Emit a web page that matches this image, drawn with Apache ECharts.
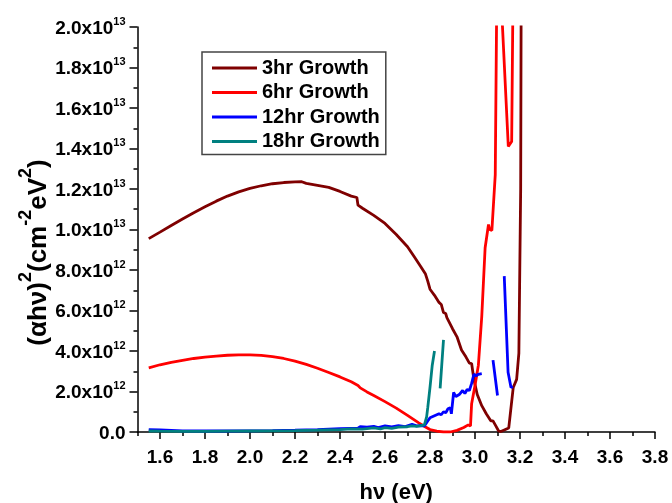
<!DOCTYPE html>
<html>
<head>
<meta charset="utf-8">
<script src="https://cdn.jsdelivr.net/npm/echarts@6/dist/echarts.min.js"></script>
<style>
  html, body { margin: 0; padding: 0; background: #fff; }
  #chart { width: 672px; height: 503px; }
</style>
</head>
<body>
<div id="chart"></div>
<script>
// Tauc plot data: photon energy hν (eV) against (αhν)², y values in units of 10^12
const Y_UNIT = 1e12;

const seriesNames = ['3hr Growth', '6hr Growth', '12hr Growth', '18hr Growth'];
const seriesColors = ['#7f0000', '#ff0000', '#0000ff', '#008080'];

const growth3hrX = [1.55, 1.60, 1.65, 1.70, 1.75, 1.80, 1.85, 1.90, 1.95, 2.00, 2.05, 2.10, 2.15, 2.20, 2.23,
  2.25, 2.30, 2.35, 2.40, 2.45, 2.475, 2.48, 2.50, 2.55, 2.60, 2.65, 2.70, 2.73, 2.76, 2.78, 2.79, 2.80,
  2.82, 2.84, 2.85, 2.86, 2.87, 2.875, 2.88, 2.90, 2.92, 2.94, 2.96, 2.975, 2.985, 2.995, 3.01, 3.03, 3.05,
  3.07, 3.08, 3.09, 3.105, 3.115, 3.14, 3.15, 3.16, 3.17, 3.185, 3.195, 3.203, 3.206];
const growth3hrY = [9.55, 9.87, 10.20, 10.52, 10.83, 11.12, 11.40, 11.65, 11.86, 12.03, 12.16, 12.26, 12.32, 12.35, 12.36,
  12.28, 12.18, 12.08, 11.88, 11.65, 11.58, 11.20, 11.05, 10.70, 10.30, 9.75, 9.15, 8.65, 8.15, 7.80, 7.45, 7.05,
  6.75, 6.40, 6.30, 5.90, 5.85, 5.65, 5.70, 5.10, 4.70, 4.05, 3.70, 3.40, 3.38, 2.60, 1.85, 1.30, 0.90,
  0.55, 0.55, 0.35, 0.05, 0.02, 0.15, 0.20, 1.20, 2.20, 2.60, 3.90, 12.0, 25.0];

const growth6hrX = [1.55, 1.60, 1.65, 1.70, 1.75, 1.80, 1.85, 1.90, 1.95, 2.00, 2.05, 2.10, 2.15, 2.20, 2.25,
  2.30, 2.35, 2.40, 2.45, 2.48, 2.49, 2.52, 2.55, 2.60, 2.65, 2.70, 2.75, 2.78, 2.80, 2.83, 2.86, 2.89,
  2.92, 2.95, 2.97, 2.98, 2.985, 3.00, 3.015, 3.03, 3.045, 3.06, 3.065, 3.075, 3.09, 3.096, 3.108, 3.12,
  3.148, 3.163, 3.168, 3.175];
const growth6hrY = [3.17, 3.32, 3.44, 3.54, 3.63, 3.70, 3.75, 3.79, 3.81, 3.81, 3.78, 3.72, 3.63, 3.50, 3.34,
  3.15, 2.94, 2.72, 2.48, 2.30, 2.18, 1.98, 1.80, 1.50, 1.18, 0.82, 0.45, 0.25, 0.12, 0.04, 0.00, 0.00,
  0.08, 0.22, 0.35, 0.30, 1.40, 2.30, 3.30, 5.70, 9.10, 10.25, 10.00, 9.95, 12.70, 20.5, 26.0, 20.5,
  14.10, 14.35, 20.5, 26.0];

// null marks a gap in the trace
const growth12hrX = [1.55, 1.60, 1.65, 1.70, 1.80, 1.90, 2.00, 2.10, 2.20, 2.30, 2.35, 2.40, 2.45, 2.48, 2.49,
  2.52, 2.55, 2.57, 2.60, 2.63, 2.66, 2.69, 2.72, 2.74, 2.76, 2.775, 2.79, 2.80, 2.82, 2.84, 2.85, 2.86,
  2.87, 2.88, 2.89, 2.895, 2.905, 2.915, 2.93, 2.945, 2.955, 2.965, 2.975, 2.985, 2.995, 3.005, 3.015, 3.03,
  3.05, 3.08, 3.10, 3.115, 3.13, 3.14, 3.147, 3.16, 3.168];
const growth12hrY = [0.12, 0.10, 0.08, 0.06, 0.05, 0.05, 0.06, 0.07, 0.09, 0.12, 0.14, 0.16, 0.18, 0.19, 0.27,
  0.24, 0.28, 0.22, 0.30, 0.25, 0.31, 0.27, 0.38, 0.30, 0.32, 0.30, 0.55, 0.70, 0.80, 0.90, 0.85, 1.00,
  0.95, 1.15, 1.20, 0.90, 1.95, 1.75, 1.85, 2.05, 1.90, 2.10, 2.05, 2.40, 2.85, 2.78, 2.85, 2.88,
  null, 3.55, 1.80, null, 7.70, 4.90, 2.95, 2.20, 2.25];

const growth18hrX = [1.55, 1.60, 1.70, 1.80, 1.90, 2.00, 2.10, 2.20, 2.30, 2.40, 2.45, 2.50, 2.55, 2.58, 2.60,
  2.63, 2.66, 2.70, 2.72, 2.74, 2.76, 2.775, 2.785, 2.79, 2.80, 2.81, 2.82, 2.83, 2.845, 2.86];
const growth18hrY = [0.05, 0.04, 0.03, 0.03, 0.04, 0.05, 0.06, 0.07, 0.09, 0.12, 0.15, 0.14, 0.20, 0.15, 0.22,
  0.18, 0.24, 0.26, 0.30, 0.28, 0.32, 0.35, 0.75, 1.20, 2.20, 3.30, 4.00, null, 2.15, 4.55];

// Labelled (major) ticks on the energy axis; minor ticks fall halfway between
const xMajorTicks = [1.6, 1.8, 2.0, 2.2, 2.4, 2.6, 2.8, 3.0, 3.2, 3.4, 3.6, 3.8];

const FONT = "'Liberation Sans', Arial, sans-serif";

function toPairs(xs, ys) {
  return xs.map((x, i) => [x, ys[i] === null ? '-' : ys[i] * Y_UNIT]);
}

function yTickLabel(v) {
  if (v === 0) return '{m|0.0}';
  const exp = Math.floor(Math.log10(v) + 1e-9);
  const mant = (v / Math.pow(10, exp)).toFixed(1);
  return '{m|' + mant + 'x10}{e|' + exp + '}';
}

const chart = echarts.init(document.getElementById('chart'), null, { renderer: 'canvas' });

const axisLineStyle = { color: '#000', width: 1.5 };

chart.setOption({
  animation: false,
  backgroundColor: '#fff',
  grid: { left: 137.5, right: 17, top: 27, bottom: 71, containLabel: false, outerBoundsMode: 'none' },
  legend: {
    orient: 'vertical',
    left: 202,
    top: 52,
    padding: [6, 6, 3, 10],
    itemGap: 4.5,
    itemWidth: 45,
    itemHeight: 3,
    icon: 'rect',
    borderColor: '#444',
    borderWidth: 1.5,
    backgroundColor: '#fff',
    textStyle: { fontFamily: FONT, fontSize: 20, fontWeight: 'bold', color: '#000', lineHeight: 20 },
    data: seriesNames
  },
  xAxis: [
    {
      type: 'value',
      position: 'bottom',
      min: 1.5,
      max: 3.8,
      name: 'hν (eV)',
      nameLocation: 'middle',
      nameGap: 50,
      nameMoveOverlap: false,
      nameTextStyle: { fontFamily: FONT, fontSize: 22, fontWeight: 'bold', color: '#000' },
      axisLine: { show: true, onZero: false, lineStyle: axisLineStyle },
      axisTick: { show: true, length: 7, lineStyle: axisLineStyle, customValues: xMajorTicks },
      axisLabel: {
        show: true,
        customValues: xMajorTicks,
        margin: 16,
        fontFamily: FONT,
        fontSize: 19,
        fontWeight: 'bold',
        color: '#000',
        formatter: v => v.toFixed(1)
      },
      splitLine: { show: false }
    },
    {
      type: 'value',
      position: 'bottom',
      min: 1.5,
      max: 3.8,
      interval: 0.1,
      axisLine: { show: false },
      axisTick: { show: true, length: 4, lineStyle: axisLineStyle },
      axisLabel: { show: false },
      splitLine: { show: false }
    }
  ],
  yAxis: {
    type: 'value',
    min: 0,
    max: 2e13,
    interval: 2e12,
    name: '{a|(αhν)}{s|2}{a|(cm}{s|-2}{a|eV}{s|2}{a|)}',
    nameLocation: 'middle',
    nameRotate: 90,
    nameGap: 86,
    nameMoveOverlap: false,
    nameTextStyle: {
      padding: [0, 46, 0, 0],
      rich: {
        a: { fontFamily: FONT, fontSize: 26, fontWeight: 'bold', color: '#000', lineHeight: 34, verticalAlign: 'bottom' },
        s: { fontFamily: FONT, fontSize: 18, fontWeight: 'bold', color: '#000', lineHeight: 34, verticalAlign: 'top' }
      }
    },
    axisLine: { show: true, onZero: false, lineStyle: axisLineStyle },
    axisTick: { show: true, length: 8, lineStyle: axisLineStyle },
    minorTick: { show: true, splitNumber: 2, length: 4, lineStyle: axisLineStyle },
    axisLabel: {
      margin: 12,
      formatter: yTickLabel,
      rich: {
        m: { fontFamily: FONT, fontSize: 19, fontWeight: 'bold', color: '#000', lineHeight: 22, verticalAlign: 'bottom' },
        e: { fontFamily: FONT, fontSize: 11, fontWeight: 'bold', color: '#000', lineHeight: 22, verticalAlign: 'top' }
      }
    },
    splitLine: { show: false },
    minorSplitLine: { show: false }
  },
  series: [
    [growth3hrX, growth3hrY],
    [growth6hrX, growth6hrY],
    [growth12hrX, growth12hrY],
    [growth18hrX, growth18hrY]
  ].map(([xs, ys], i) => ({
    name: seriesNames[i],
    type: 'line',
    xAxisIndex: 0,
    showSymbol: false,
    symbol: 'none',
    connectNulls: false,
    clip: true,
    color: seriesColors[i],
    lineStyle: { color: seriesColors[i], width: 2.8 },
    data: toPairs(xs, ys)
  }))
});
</script>
</body>
</html>
